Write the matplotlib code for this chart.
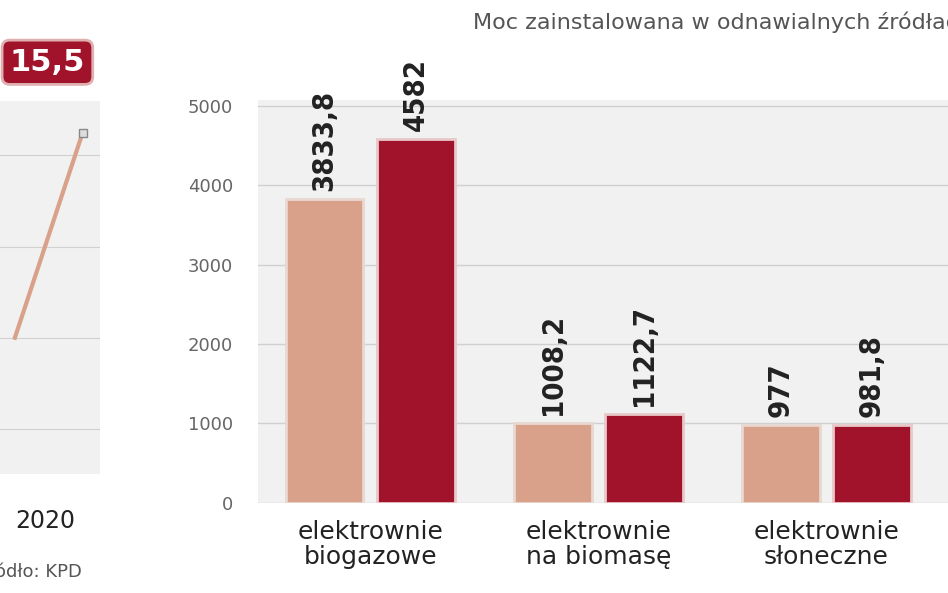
import matplotlib.pyplot as plt
import numpy as np

categories = ["elektrownie\nbiogazowe", "elektrownie\nna biomasę", "elektrownie\nsłoneczne"]
vals_a = [3833.8, 1008.2, 977]
vals_b = [4582, 1122.7, 981.8]
lab_a = ["3833,8", "1008,2", "977"]
lab_b = ["4582", "1122,7", "981,8"]
yticks = [0, 1000, 2000, 3000, 4000, 5000]
line_x = [0, 1]
line_y = [11.0, 15.5]

c_a = "#d9a08a"
c_b = "#a0132a"
bg = "#f1f1f1"

fig = plt.figure(figsize=(9.48, 5.93), dpi=100)
plt.rcParams['font.family'] = ['DejaVu Sans']

ax = fig.add_axes([0.272, 0.152, 0.728, 0.68])
ax.set_facecolor(bg)
x = np.arange(len(categories))
ax.bar(x - 0.2, vals_a, 0.34, color=c_a, edgecolor="#e8d8d0", linewidth=2, zorder=3)
ax.bar(x + 0.2, vals_b, 0.34, color=c_b, edgecolor="#e8c8c8", linewidth=2, zorder=3)
for i in range(len(x)):
    ax.text(x[i] - 0.2, vals_a[i] + 100, lab_a[i], rotation=90, ha="center", va="bottom",
            fontsize=21, fontweight="bold", color="#222222", fontstretch="condensed")
    ax.text(x[i] + 0.2, vals_b[i] + 100, lab_b[i], rotation=90, ha="center", va="bottom",
            fontsize=21, fontweight="bold", color="#222222", fontstretch="condensed")
ax.set_xlim(-0.493, 2.533)
ax.set_ylim(0, 5080)
ax.set_yticks(yticks)
ax.set_yticklabels([str(t) for t in yticks], fontsize=13, color="#666666")
ax.grid(axis="y", color="#d0d0d0", linewidth=1, zorder=0)
ax.set_xticks(x)
ax.set_xticklabels(categories, fontsize=18, color="#222222", linespacing=1.1)
ax.tick_params(length=0, pad=12)
ax.tick_params(axis="y", pad=18)
for s in ax.spines.values():
    s.set_visible(False)

fig.text(0.499, 0.962, "Moc zainstalowana w odnawialnych źródłach energii", fontsize=16,
         color="#555555", ha="left", va="center")

# left partial panel
ax2 = fig.add_axes([-0.02, 0.2, 0.125, 0.63])
ax2.set_facecolor(bg)
ax2.plot(line_x, line_y, color=c_a, linewidth=3)
ax2.plot([line_x[-1]], [line_y[-1]], marker="s", color="#dddddd", markeredgecolor="#888888", markersize=6)
ax2.set_xlim(-0.5, 1.25)
ax2.set_ylim(8, 16.2)
ax2.set_yticks([9, 11, 13, 15])
ax2.grid(axis="y", color="#d0d0d0")
ax2.set_xticks([])
ax2.set_yticklabels([])
ax2.tick_params(length=0)
for s in ax2.spines.values():
    s.set_visible(False)

fig.text(0.05, 0.895, "15,5", fontsize=22, fontweight="bold", color="white", ha="center", va="center",
         bbox=dict(boxstyle="round,pad=0.25", fc=c_b, ec="#e0b0b0", lw=2))
fig.text(0.048, 0.122, "2020", fontsize=17, color="#222222", ha="center", va="center")
fig.text(-0.005, 0.035, "ódło: KPD", fontsize=13, color="#555555", ha="left", va="center")

fig.savefig("out.png", dpi=100)
